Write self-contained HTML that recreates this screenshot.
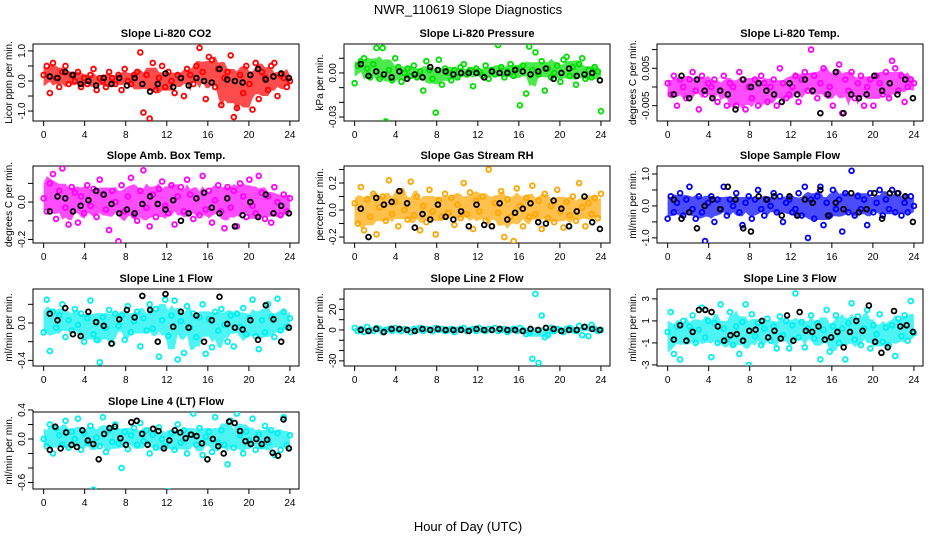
<!DOCTYPE html>
<html><head><meta charset="utf-8"><style>
html,body{margin:0;padding:0;background:#fff;}
svg{display:block;font-family:"Liberation Sans",sans-serif;}
</style></head><body>
<svg id="chart" width="936" height="540" viewBox="0 0 936 540" xmlns="http://www.w3.org/2000/svg">
<rect width="936" height="540" fill="#fff"/>
<text x="468" y="14" text-anchor="middle" font-size="13">NWR_110619  Slope Diagnostics</text>
<text x="468" y="531" text-anchor="middle" font-size="13">Hour of Day (UTC)</text>
</svg>
<script>
const xTicks = [0,4,8,12,16,20,24];
const titles = ["Slope Li-820 CO2","Slope Li-820 Pressure","Slope Li-820 Temp.","Slope Amb. Box Temp.","Slope Gas Stream RH","Slope Sample Flow","Slope Line 1 Flow","Slope Line 2 Flow","Slope Line 3 Flow","Slope Line 4 (LT) Flow"];
const yTitles = ["Licor ppm per min.","kPa per min.","degrees C per min.","degrees C per min.","percent per min.","ml/min per min.","ml/min per min.","ml/min per min.","ml/min per min.","ml/min per min."];
const colors = ["#ff0000","#00e000","#ff00ff","#ff00ff","#ffa500","#0000ff","#00f0f0","#00f0f0","#00f0f0","#00f0f0"];
const yLims = [[-1.33,1.23],[-0.0327,0.0197],[-0.0091,0.0115],[-0.219,0.193],[-0.244,0.326],[-1.16,1.25],[-0.46,0.364],[-35,39.8],[-3.1,3.9],[-0.69,0.372]];
const yTickVals = [[-1,-0.5,0,0.5,1],[-0.03,-0.02,-0.01,0,0.01],[-0.005,0,0.005,0.01],[-0.2,-0.1,0,0.1],[-0.2,-0.1,0,0.1,0.2,0.3],[-1,-0.5,0,0.5,1],[-0.4,-0.2,0,0.2],[-30,-20,-10,0,10,20,30],[-3,-1,1,3],[-0.6,-0.4,-0.2,0,0.2,0.4]];
const yTickLabels = [["-1.0","","0.0","","1.0"],["-0.03","","","0.00",""],["-0.005","","0.005",""],["-0.2","","0.0",""],["-0.2","","0.0","","0.2",""],["-1.0","","0.0","","1.0"],["-0.4","","0.0",""],["-30","","","0","","20",""],["-3","-1","1","3"],["-0.6","","","0.0","","0.4"]];
const units = [1,0.001,0.001,0.01,0.01,0.1,0.01,1,1,0.01];
const colVals = [
[0.2,0.5,-0.4,0.6,0.1,-0.2,0.3,0.5,-0.1,0.2,0.0,0.3,-0.2,0.1,-0.1,0.2,0.4,-0.3,0.1,0.0,-0.2,0.3,0.1,-0.1,0.2,-0.3,0.4,0.0,-0.1,0.2,0.3,0.95,-1.05,0.2,-1.25,0.6,-0.3,0.1,0.5,-0.2,0.3,0.0,-0.4,0.2,0.1,-0.5,0.4,0.2,-0.1,0.5,1.1,0.3,-0.6,0.8,0.7,-0.2,0.4,-0.8,0.1,0.3,0.85,-1.2,-0.9,0.2,-0.4,0.5,-0.1,-0.95,0.6,-0.6,0.3,0.1,-0.3,0.5,0.6,-0.5,0.2,0.1,-0.2,0.0],
[-7,5,8,10,3,-3,6,17,-4,17,-33,2,-5,10,4,-6,0,3,-2,5,-3,1,-12,8,2,-4,-27,9,-8,3,0,-5,2,-3,4,6,-1,2,-9,3,1,-2,5,-4,2,-1,19,4,-3,1,6,-2,3,-22,5,-14,18,2,14,-1,8,-12,3,-3,0,5,-6,9,11,-2,4,-8,6,10,-4,2,-3,4,1,-26],
[1,-2,3,-5,2,0,-3,2,4,-1,-6,3,-2,1,0,2,-4,-1,3,-5,1,0,-5,4,2,-6,0,-3,2,-5,3,1,-4,0,2,-5,5,1,-3,-2,0,3,-4,2,4,-1,10,3,-3,1,5,-2,0,-5,4,6,-7,2,-1,4,-3,1,3,-5,0,2,-5,3,1,-2,4,-3,7,5,-1,3,-4,0,2,1],
[2,-5,10,15,-9,6,18,-3,-12,8,5,-11,3,-6,9,-2,7,-8,12,4,-4,-15,6,0,-21,9,-5,3,13,-7,-10,6,17,-3,-13,4,-8,7,11,-2,-6,9,-12,3,8,-5,12,4,-9,2,-7,14,-4,6,-11,1,9,-5,-14,8,-3,6,-13,10,3,-8,12,-2,-6,14,5,-9,3,-11,8,0,-7,4,-5,2],
[5,-10,17,-15,8,-5,12,-18,2,10,-8,22,-3,6,-12,14,0,-7,21,-4,10,-15,3,-9,15,-1,-18,7,-5,12,-2,9,-11,4,-6,20,-3,13,-14,7,-1,10,-8,30,-12,5,-2,14,-20,8,-5,-23,16,3,-12,9,-5,18,-3,7,-14,12,-6,3,-9,15,-1,-13,6,-4,10,-8,20,2,-12,5,-3,9,-6,12],
[-4,3,-2,1,4,-3,2,6,-1,-4,3,-2,-11,1,3,-5,2,-1,6,-3,2,0,4,-2,-6,1,3,-4,2,5,-1,-3,2,0,4,-2,3,-5,1,2,-2,-1,4,-3,6,-10,2,-4,3,6,-6,1,-3,5,-1,2,-8,4,-2,11,-3,3,-1,2,-6,4,-2,1,5,-3,2,-1,5,-2,4,-3,1,-2,3,0],
[-10,25,-30,12,-5,8,20,-15,3,-8,15,-2,10,-20,5,24,-12,-18,-42,6,-5,14,-22,10,-3,8,-18,18,-10,2,12,-25,5,-8,20,-6,15,-36,3,25,-14,8,24,-39,2,-32,18,-5,10,-15,6,20,-33,4,-26,12,-8,15,-2,-20,8,-25,10,-4,16,-12,5,25,-14,-28,3,-10,20,6,-15,26,-8,12,-4,5],
[2,-1,1,-2,3,0,-1,2,1,-2,0,1,-1,2,0,-1,1,0,-2,1,0,2,-1,1,0,-1,2,0,1,-1,0,1,-2,0,1,2,-1,0,1,-1,2,0,-1,1,0,2,-1,0,1,-2,0,1,-1,2,0,-4,-3,-28,35,-32,14,-7,-5,2,-1,1,0,-2,1,2,0,-1,4,-5,3,-6,5,1,-1,0],
[0,1.8,-2,0.5,-2.5,1,-0.8,0.5,1.5,-1,0.2,2.2,-0.5,1,-2.3,0.8,-1,2.5,0.3,-0.7,1.8,-1.2,0.5,-2,0.9,2.5,-3,1.6,-0.4,0.8,-1.2,0.3,1.2,-0.8,0.5,-1.5,1.4,-0.3,1,-1.5,0.6,3.5,-0.5,0.9,-1.4,0.3,1.5,-0.6,0.8,-2.5,0.2,2,-1.8,0.5,1.5,-1,0.3,-2.5,0.8,2.6,-0.7,1.4,-1.2,0.3,2,-1.5,0.6,-0.2,1.6,-0.9,0.4,-1.2,0.6,-2.2,1.2,-0.4,1.5,-0.8,2.8,-0.1],
[0,-10,20,-20,15,5,-8,25,-12,10,0,28,-15,8,-5,18,-70,2,-10,30,-18,12,-4,20,-6,-40,10,-14,5,15,-8,22,-3,12,-20,6,-12,16,0,-10,-72,8,-15,20,-5,12,-20,6,35,-8,15,-22,3,10,-18,30,-5,12,-8,-35,25,-12,35,5,-20,10,-2,28,-15,6,-10,18,-5,12,-22,8,-15,30,-8,5]
];
const blkVals = [
[0.15,0.1,0.3,0.2,-0.1,0.0,-0.15,0.1,-0.1,0.1,-0.15,0.1,-0.1,-0.35,-0.1,0.25,-0.2,0.1,-0.15,0.1,0.0,-0.05,0.4,0.05,0.0,-0.05,0.2,0.4,0.05,0.15,0.25,0.1],
[6,-2,1,-1,-3,1,-4,-1,-3,4,2,1,-1,0,0,0,-3,1,0,0,2,1,-1,1,3,-4,0,3,-2,-1,0,-5],
[-2,3,-3,2,-1,-3,-1,-2,-6,2,0,1,-1,-2,-4,1,-2,2,-1,-7,-2,4,-7,-2,-3,-2,3,-1,1,-2,2,-3],
[-5,3,2,-5,-2,1,6,4,-1,-6,-4,-6,-1,3,-1,-4,1,-10,-6,2,5,-3,-6,2,-13,-7,0,-8,4,-6,-2,-6],
[1,-20,9,4,6,14,5,-13,-3,-7,4,-5,-7,-1,-12,4,-11,-12,5,-7,-2,1,5,-9,-10,7,1,-12,-1,10,-9,-14],
[2,-4,-2,-7,0,2,-1,6,2,-7,-8,3,2,3,-3,3,-3,2,1,5,-3,1,-1,4,-2,-1,4,-4,4,4,3,-5],
[10,3,16,-12,-14,12,1,-3,-22,4,14,6,29,14,-20,31,-4,12,-5,8,-20,3,28,-1,-5,-7,3,-18,19,4,-20,-5],
[0,-1,1,-2,1,1,0,-1,1,0,1,0,0,0,-1,1,0,0,1,0,0,-1,1,0,2,1,-1,0,0,3,1,0],
[-0.7,0.6,-0.8,0,2,2,1.8,0.5,-0.8,-0.3,-0.2,-0.8,0.1,0.2,1,-0.5,0.1,-0.6,1.5,-0.8,1.8,0.1,0,0.5,-0.7,-0.5,0,-1.4,0,1,0.1,2.4,-0.9,-1.9,-1.4,1.9,0.5,0.6,0],
[-15,17,-13,9,-8,-11,12,-2,-7,-28,7,15,17,1,-8,23,25,7,-8,14,11,-13,-2,12,9,1,6,4,-6,-28,0,-10,-20,24,22,11,-3,-7,0,-7,-1,-19,-23,27,-13]
];

const NS = "http://www.w3.org/2000/svg";
const svg = document.getElementById("chart");
const colX = [33,344,657], rowY = [44,166,289,412], W = 266, H = 77;
function mk(tag, attrs, parent){ const e=document.createElementNS(NS,tag); for(const k in attrs) e.setAttribute(k,attrs[k]); parent.appendChild(e); return e; }
function q(arr, f){ const s=[...arr].sort((a,b)=>a-b); const idx=(s.length-1)*f; const lo=Math.floor(idx), hi=Math.ceil(idx); return s[lo]+(s[hi]-s[lo])*(idx-lo); }

for(let p=0;p<10;p++){
  const bx = colX[p%3], by = rowY[Math.floor(p/3)];
  const g = mk("g",{},svg);
  
  
  const xs = h => bx + W*0.04 + (h/24)*W/1.08;
  const [y0,y1] = yLims[p];
  const ys = v => by + H - (v - y0)/(y1 - y0)*H;
  const clip = mk("clipPath",{id:"c"+p},g);
  mk("rect",{x:bx,y:by,width:W,height:H},clip);
  const t = mk("text",{x:bx+W/2,y:by-7,"text-anchor":"middle","font-size":"11","font-weight":"bold"},g);
  t.textContent = titles[p];
  
  
  const yt = mk("text",{x:0,y:0,"text-anchor":"middle","font-size":"10",transform:`translate(${bx-21},${by+H/2}) rotate(-90)`},g);
  yt.textContent = yTitles[p];
  
  
  mk("line",{x1:xs(0),x2:xs(24),y1:by+H,y2:by+H,stroke:"#000"},g);
  xTicks.forEach(v=>{
    mk("line",{x1:xs(v),x2:xs(v),y1:by+H,y2:by+H+5,stroke:"#000"},g);
    const l = mk("text",{x:xs(v),y:by+H+17,"text-anchor":"middle","font-size":"10"},g);
    l.textContent = v;
    
    
  });
  const tv = yTickVals[p];
  mk("line",{x1:bx,x2:bx,y1:ys(tv[0]),y2:ys(tv[tv.length-1]),stroke:"#000"},g);
  tv.forEach((v,i)=>{
    mk("line",{x1:bx-5,x2:bx,y1:ys(v),y2:ys(v),stroke:"#000"},g);
    if(yTickLabels[p][i]){
      const l = mk("text",{x:0,y:0,"text-anchor":"middle","font-size":"10",transform:`translate(${bx-8},${ys(v)}) rotate(-90)`},g);
      l.textContent = yTickLabels[p][i];
      
      
    }
  });
  mk("rect",{x:bx,y:by,width:W,height:H,fill:"none",stroke:"#000"},g);
  const pg = mk("g",{"clip-path":`url(#c${p})`},g);
  const cv = colVals[p];
  // dense band derived from rolling quartiles of the series
  const top=[], bot=[];
  cv.forEach((v,i)=>{
    const win = cv.slice(Math.max(0,i-5), Math.min(cv.length,i+6));
    const m = q(win,0.5), lo=q(win,0.25), hi=q(win,0.75);
    const h = i*24/(cv.length-1);
    top.push([xs(h), ys((m+(hi-m)*1.2)*units[p])]);
    bot.push([xs(h), ys((m+(lo-m)*1.2)*units[p])]);
  });
  const pts = top.concat(bot.reverse()).map(a=>a[0].toFixed(1)+","+a[1].toFixed(1)).join(" ");
  const band = mk("polygon",{points:pts,fill:colors[p],"fill-opacity":0.7},pg);
  
  
  cv.forEach((v,i)=>{
    const h = i*24/(cv.length-1);
    const c = mk("circle",{cx:xs(h),cy:ys(v*units[p]),r:2.4,fill:"none",stroke:colors[p],"stroke-width":1.8},pg);
    
    
  });
  const bv = blkVals[p];
  bv.forEach((v,i)=>{
    const h = 0.6 + i*23.3/(bv.length-1);
    const c = mk("circle",{cx:xs(h),cy:ys(v*units[p]),r:2.4,fill:"none",stroke:"#000","stroke-width":1.8},pg);
    
    
  });
}
</script>
</body></html>
